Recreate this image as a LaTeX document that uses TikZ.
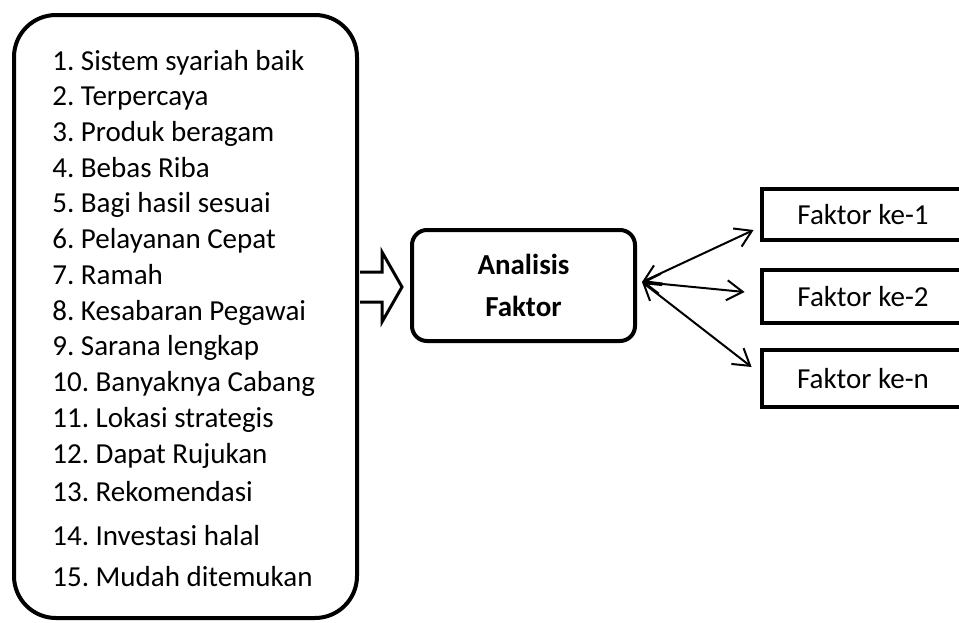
\documentclass[tikz,border=0pt]{standalone}
\usepackage{fontspec}
\setmainfont{Carlito}
\frenchspacing
\usetikzlibrary{arrows.meta}

\tikzset{
  listbox/.style={draw,line width=2pt,rounded corners=21pt,
    minimum width=171.5pt,minimum height=301.5pt},
  midbox/.style={draw,line width=2pt,rounded corners=7.5pt,align=center,
    minimum width=111.5pt,minimum height=55.5pt,
    font=\bfseries\fontsize{14.5}{21}\selectfont},
  facbox/.style={minimum width=101pt},
  dbl/.style={line width=1pt,{Straight Barb[length=8pt,width=10pt]}-{Straight Barb[length=8pt,width=10pt]}}
}

\begin{document}
\begin{tikzpicture}[x=0.5pt,y=-0.5pt,every node/.style={font=\fontsize{14.5}{17}\selectfont}]
\clip (0,0) rectangle (959,622);
%
	\node[listbox] (faktorlist) at (185.5,316.5) {};
	\foreach \txt/\y [count=\i] in {%
	  {1. Sistem syariah baik}/70, {2. Terpercaya}/105.7,
	  {3. Produk beragam}/141.4, {4. Bebas Riba}/177,
	  {5. Bagi hasil sesuai}/212.8, {6. Pelayanan Cepat}/248.5,
	  {7. Ramah}/284, {8. Kesabaran Pegawai}/320,
	  {9. Sarana lengkap}/355.6, {10. Banyaknya Cabang}/391,
	  {11. Lokasi strategis}/427, {12. Dapat Rujukan}/463,
	  {13. Rekomendasi}/501, {14. Investasi halal}/545,
	  {15. Mudah ditemukan}/586}
	  \node[anchor=base west,inner sep=0pt] (item\i) at (52,\y) {\txt};
%
	\draw[line width=1.5pt,fill=white] (360,272) -- (382,272) -- (382,252)
	  -- (402,287) -- (382,322) -- (382,302) -- (360,302);
%
	\node[midbox] (analisis) at (523.5,285.5) {Analisis\\Faktor};
%
	\node[facbox,minimum height=25.5pt] (fak1) at (863,214.5) {Faktor ke-1};
	\node[facbox,minimum height=26.5pt] (fak2) at (863,296.5) {Faktor ke-2};
	\node[facbox,minimum height=28.5pt] (fakn) at (863,378.5) {Faktor ke-n};
	\foreach \b in {fak1,fak2,fakn}
	  \draw[line width=2pt] ([xshift=20pt]\b.north east) -- (\b.north west)
	    -- (\b.south west) -- ([xshift=20pt]\b.south east);
%
	\coordinate (hub) at ([xshift=2.5pt,yshift=1.75pt]analisis.east);
	\draw[dbl] (hub) -- ([xshift=-4pt,yshift=-7.75pt]fak1.west);
	\draw[dbl] (hub) -- ([xshift=-8.5pt,yshift=2.25pt]fak2.west);
	\draw[dbl] (hub) -- ([xshift=-5pt,yshift=5.75pt]fakn.west);
\end{tikzpicture}
\end{document}
